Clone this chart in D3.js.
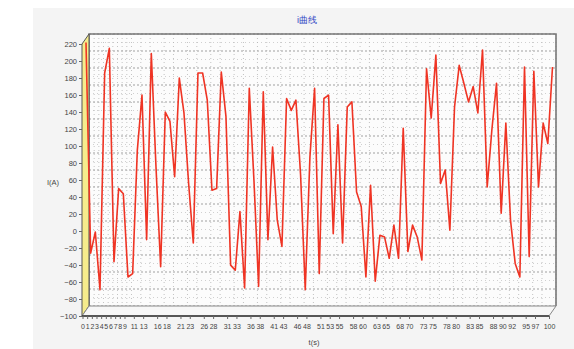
<!DOCTYPE html>
<html>
<head>
<meta charset="utf-8">
<script src="https://cdn.jsdelivr.net/npm/d3@7"></script>
<style>
  body { margin: 0; background: #fff; }
  svg { display: block; }
  text { font-family: "Liberation Sans", Arial, sans-serif; }
</style>
</head>
<body>
<script>
// t (s) and I (A)
const seconds = d3.range(0, 101);
const current = [
  216, -32, -7, -75, 180, 209, -42, 44, 38, -60,
  -56, 89, 154, -16, 203, 70, -48, 134, 123, 58,
  174, 133, 50, -20, 180, 180, 148, 42, 44, 181,
  129, -46, -52, 17, -73, 162, 54, -71, 158, -16,
  93, 7, -24, 150, 136, 148, 60, -75, 81, 162,
  -56, 150, 154, -9, 119, -20, 140, 146, 40, 23,
  -60, 48, -65, -11, -13, -38, 1, -38, 115, -30,
  1, -13, -40, 185, 127, 201, 50, 66, -5, 140,
  189, 168, 146, 164, 133, 207, 46, 113, 168, 15,
  121, 7, -44, -60, 187, -36, 182, 46, 121, 97,
  187
];
const yTicks = [220, 200, 180, 160, 140, 120, 100, 80, 60, 40, 20, 0, -20, -40, -60, -80, -100];
const yGrid = [210, 190, 170, 150, 130, 110, 90, 70, 50, 30, 10, -10, -30, -50, -70, -90];
const xTicks = [0, 1, 2, 3, 4, 5, 6, 7, 8, 9, 11, 13, 16, 18, 21, 23, 26, 28, 31, 33, 36, 38,
  41, 43, 46, 48, 51, 53, 55, 58, 60, 63, 65, 68, 70, 73, 75, 78, 80, 83, 85, 88, 90, 92,
  95, 97, 100];

const width = 574, height = 349;
const dx = 7, dy = 10; // 3d depth of the walls

// front edge of the chart box (axes sit here)
const x = d3.scaleLinear().domain([0, 100]).range([82.5, 549]);
const y = d3.scaleLinear().domain([-100, 220]).range([316, 44]);

const svg = d3.select("body").append("svg")
  .attr("width", width)
  .attr("height", height);

svg.append("rect")
  .attr("x", 33).attr("y", 8)
  .attr("width", width - 33).attr("height", height - 8)
  .attr("fill", "#f4f4f4");

const L = x(0) - 0.5, R = x(100), T = y(220), B = y(-100);

// back wall
const back = svg.append("g").attr("transform", "translate(" + dx + "," + (-dy) + ")");
back.append("rect")
  .attr("x", L).attr("y", T)
  .attr("width", R - L).attr("height", B - T)
  .attr("fill", "#fcfcfc");

back.append("g")
  .selectAll("line")
  .data(yGrid)
  .join("line")
  .attr("x1", L).attr("x2", R)
  .attr("y1", d => y(d)).attr("y2", d => y(d))
  .attr("stroke", "#c4c4c4")
  .attr("stroke-width", 0.8)
  .attr("stroke-dasharray", "1,3");

back.append("g")
  .selectAll("line")
  .data(yTicks)
  .join("line")
  .attr("x1", L).attr("x2", R)
  .attr("y1", d => y(d)).attr("y2", d => y(d))
  .attr("stroke", "#a0a0a0")
  .attr("stroke-width", 1)
  .attr("stroke-dasharray", "2,2");

back.append("g")
  .selectAll("line")
  .data(xTicks)
  .join("line")
  .attr("x1", d => x(d)).attr("x2", d => x(d))
  .attr("y1", T).attr("y2", B)
  .attr("stroke", "#b4b4b4")
  .attr("stroke-width", 0.8)
  .attr("stroke-dasharray", "1,3");

back.append("path")
  .attr("d", "M" + L + "," + B + "V" + T + "H" + R + "V" + B)
  .attr("fill", "none")
  .attr("stroke", "#777")
  .attr("stroke-width", 1.6);

// left wall
svg.append("path")
  .attr("d", "M" + L + "," + T + "L" + (L + dx) + "," + (T - dy) + "L" + (L + dx) + "," + (B - dy) + "L" + L + "," + B + "Z")
  .attr("fill", "#f6ec8c")
  .attr("stroke", "#555")
  .attr("stroke-width", 1);

// floor
svg.append("path")
  .attr("d", "M" + L + "," + B + "L" + (L + dx) + "," + (B - dy) + "L" + (R + dx) + "," + (B - dy) + "L" + R + "," + B + "Z")
  .attr("fill", "#f7f7f7")
  .attr("stroke", "#888")
  .attr("stroke-width", 1);

svg.append("line")
  .attr("x1", L).attr("x2", R)
  .attr("y1", B).attr("y2", B)
  .attr("stroke", "#333")
  .attr("stroke-width", 1.6);

// series, drawn halfway into the box
const line = d3.line()
  .x((d, i) => x(seconds[i]) + dx / 2)
  .y(d => y(d) - dy / 2);

svg.append("path")
  .datum(current)
  .attr("d", line)
  .attr("fill", "none")
  .attr("stroke", "#ef3424")
  .attr("stroke-width", 1.6)
  .attr("stroke-linejoin", "round");

// axes
const yAxis = d3.axisLeft(y)
  .tickValues(yTicks)
  .tickSize(3)
  .tickPadding(2);

svg.append("g")
  .attr("transform", "translate(" + L + ",0)")
  .call(yAxis)
  .call(g => g.select(".domain").remove())
  .call(g => g.selectAll("line").attr("stroke", "#666"))
  .call(g => g.selectAll("text").attr("font-size", 7.5).attr("fill", "#444").attr("font-family", null));

const xAxis = d3.axisBottom(x)
  .tickValues(xTicks)
  .tickSize(3)
  .tickPadding(5);

svg.append("g")
  .attr("transform", "translate(0," + B + ")")
  .call(xAxis)
  .call(g => g.select(".domain").remove())
  .call(g => g.selectAll("line").attr("stroke", "#666"))
  .call(g => g.selectAll("text").attr("font-size", 7).attr("fill", "#444").attr("font-family", null));

// titles
svg.append("text")
  .attr("x", 307).attr("y", 23)
  .attr("text-anchor", "middle")
  .attr("font-size", 9)
  .attr("fill", "#3347c4")
  .text("i曲线");

svg.append("text")
  .attr("x", 53).attr("y", 185)
  .attr("text-anchor", "middle")
  .attr("font-size", 7.5)
  .attr("fill", "#444")
  .text("I(A)");

svg.append("text")
  .attr("x", 314).attr("y", 345)
  .attr("text-anchor", "middle")
  .attr("font-size", 7.5)
  .attr("fill", "#444")
  .text("t(s)");
</script>
</body>
</html>
